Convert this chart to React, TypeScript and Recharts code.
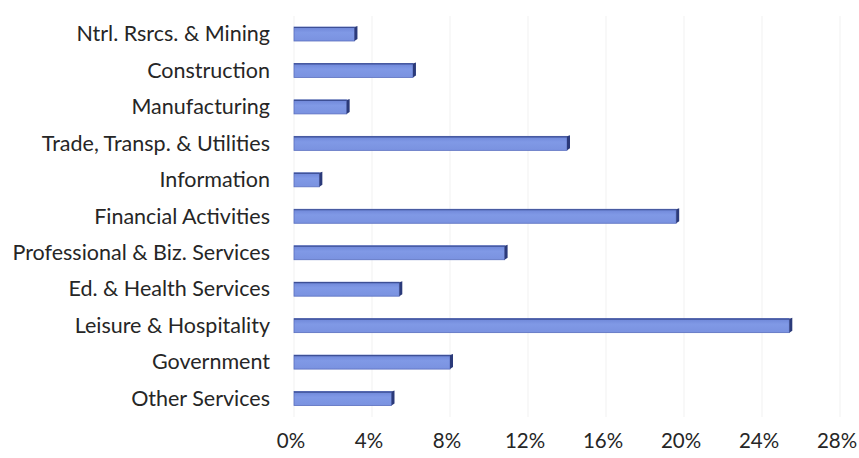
import React from "react";
import { BarChart, Bar, XAxis, YAxis, CartesianGrid } from "recharts";

const categories = [
  "Ntrl. Rsrcs. & Mining",
  "Construction",
  "Manufacturing",
  "Trade, Transp. & Utilities",
  "Information",
  "Financial Activities",
  "Professional & Biz. Services",
  "Ed. & Health Services",
  "Leisure & Hospitality",
  "Government",
  "Other Services",
];
const values = [3.1, 6.1, 2.7, 14.0, 1.3, 19.6, 10.8, 5.4, 25.4, 8.0, 5.0];
const xTicks = [0, 4, 8, 12, 16, 20, 24, 28];

const data = categories.map((c, i) => ({ name: c, value: values[i] }));

const FONT = "Lato, 'Open Sans', sans-serif";

const Bar3D = (props: any) => {
  const { x, y, width, height } = props;
  const d = 3;
  return (
    <g>
      <rect x={x} y={y} width={width} height={height} fill="url(#barGrad)" stroke="#5a6fbf" strokeWidth={0.8} />
      <line x1={x} y1={y + 0.5} x2={x + width} y2={y + 0.5} stroke="#3d4f95" strokeWidth={1.2} />
      <polygon
        points={`${x + width},${y} ${x + width + d},${y - 1} ${x + width + d},${y + height - 2} ${x + width},${y + height}`}
        fill="#2b3a7a"
      />
    </g>
  );
};

const YTick = (props: any) => {
  const { y, payload } = props;
  return (
    <text x={270} y={y} dy={7} textAnchor="end" fontFamily={FONT} fontSize={21.5} fill="#262626">
      {payload.value}
    </text>
  );
};

const XTick = (props: any) => {
  const { x, y, payload } = props;
  return (
    <text x={x - 3} y={y} dy={23} textAnchor="middle" fontFamily={FONT} fontSize={20.5} fill="#262626">
      {payload.value}%
    </text>
  );
};

export default function App() {
  return (
    <div style={{ position: "absolute", left: 0, top: 0, background: "#fff" }}>
      <BarChart
        width={859}
        height={458}
        data={data}
        layout="vertical"
        margin={{ top: 16, right: 19, bottom: 0, left: 0 }}
        barCategoryGap={0}
      >
        <defs>
          <linearGradient id="barGrad" x1="0" y1="0" x2="0" y2="1">
            <stop offset="0%" stopColor="#6e86d8" />
            <stop offset="40%" stopColor="#8099e6" />
            <stop offset="100%" stopColor="#7a92e0" />
          </linearGradient>
        </defs>
        <CartesianGrid horizontal={false} stroke="#f1f1f1" />
        <XAxis
          type="number"
          dataKey="value"
          domain={[0, 28]}
          ticks={xTicks}
          axisLine={false}
          tickLine={false}
          height={41}
          tick={<XTick />}
          interval={0}
        />
        <YAxis
          type="category"
          dataKey="name"
          width={294}
          axisLine={false}
          tickLine={false}
          tick={<YTick />}
          interval={0}
        />
        <Bar dataKey="value" barSize={14} shape={<Bar3D />} isAnimationActive={false} />
      </BarChart>
    </div>
  );
}
